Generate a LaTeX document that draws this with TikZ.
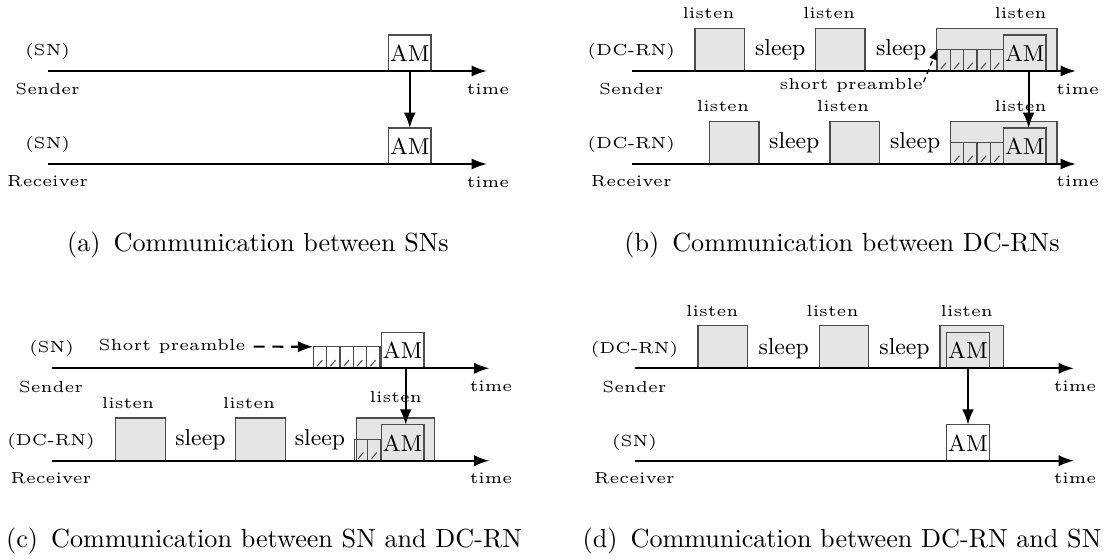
\documentclass[tikz,border=0pt]{standalone}
\usetikzlibrary{arrows.meta,positioning}
\tikzset{
  tag/.style={font=\tiny, scale=1.25, inner sep=0pt},
  word/.style={font=\small, inner sep=0pt},
  caption/.style={font=\fontsize{10.2}{12}\selectfont, inner sep=0pt},
  axis/.style={-{Latex[length=6pt,width=4.4pt]}, line width=0.85pt},
  msg/.style={-{Latex[length=6pt,width=4.6pt]}, line width=0.85pt},
  cue/.style={-{Latex[length=4pt,width=3.2pt]}, line width=0.5pt, dash pattern=on 2pt off 1.5pt},
  wake/.style={draw=black!70, fill=black!10, line width=0.5pt, minimum width=19.3pt, minimum height=16.7pt, inner sep=0pt, outer sep=0pt, anchor=south west},
  am/.style={draw=black!70, line width=0.5pt, minimum width=16.6pt, minimum height=14pt, inner sep=0pt, outer sep=0pt, anchor=south west, font=\small},
  pre/.style={draw=black!70, line width=0.5pt, minimum width=5.2pt, minimum height=8.4pt, inner sep=0pt, outer sep=0pt, anchor=south west,
    path picture={\draw[line width=0.4pt] ([xshift=1.5pt,yshift=0.8pt]path picture bounding box.south west) -- ++(2pt,2.4pt);}}
}

\begin{document}
\begin{tikzpicture}[x=0.39pt, y=-0.39pt]
  \useasboundingbox (0,0) rectangle (1109,560);

  % (a) SN -> SN
  \coordinate (a0) at (48,71);   \coordinate (a1) at (487,71);
  \coordinate (a2) at (48,164);  \coordinate (a3) at (487,164);
  \node[am] (amA1) at (388.5,71) {AM};
  \node[am] (amA2) at (388.5,164) {AM};
  \draw[axis] (a0) -- (a1);
  \draw[axis] (a2) -- (a3);
  \draw[msg] (amA1.south) -- (amA2.north);
  \node[tag] (nA1) at (47.6,51.7) {(SN)};
  \node[tag] (sA) at (47.6,89.3) {Sender};
  \node[tag] (tA1) at (488,89.3) {time};
  \node[tag] (nA2) at (47.6,144) {(SN)};
  \node[tag] (rA) at (47.6,181.7) {Receiver};
  \node[tag] (tA2) at (488,182) {time};
  \node[caption] (capA) at (258,245) {(a)\enspace Communication between SNs};

  % (b) DC-RN -> DC-RN
  \coordinate (b0) at (632,71);   \coordinate (b1) at (1076,71);
  \coordinate (b2) at (632,164);  \coordinate (b3) at (1076,164);
  \node[wake] (lb1) at (695,71) {};
  \node[wake] (lb2) at (815.6,71) {};
  \node[wake, minimum width=46.9pt] (wbS) at (936.8,71) {};
  \node[pre] (pb1) at (937,71) {};
  \node[pre, right=0pt of pb1] (pb2) {};
  \node[pre, right=0pt of pb2] (pb3) {};
  \node[pre, right=0pt of pb3] (pb4) {};
  \node[pre, right=0pt of pb4] (pb5) {};
  \node[am] (amB1) at (1003.5,71) {AM};
  \node[wake] (lb3) at (709.4,164) {};
  \node[wake] (lb4) at (829.9,164) {};
  \node[wake, minimum width=41.6pt] (wbR) at (950.4,164) {};
  \node[pre] (qb1) at (950.4,164) {};
  \node[pre, right=0pt of qb1] (qb2) {};
  \node[pre, right=0pt of qb2] (qb3) {};
  \node[pre, right=0pt of qb3] (qb4) {};
  \node[am] (amB2) at (1003.5,164) {AM};
  \draw[axis] (b0) -- (b1);
  \draw[axis] (b2) -- (b3);
  \node[tag] (nB1) at (631.3,51.7) {(DC-RN)};
  \node[tag] (sB) at (631.3,89.3) {Sender};
  \node[tag] (tB1) at (1077.6,89.3) {time};
  \node[tag] (spB) at (851.2,86) {short preamble};
  \draw[cue] ([yshift=1.5pt]spB.east) -- (pb1.north west);
  \node[tag] (iB1) at (708.6,13.3) {listen};
  \node[tag] (iB2) at (829.1,13.3) {listen};
  \node[tag] (iB3) at (1020.6,13.3) {listen};
  \node[word] (zB1) at (780.2,50) {sleep};
  \node[word] (zB2) at (901.2,50) {sleep};
  \node[tag] (nB2) at (631.3,144) {(DC-RN)};
  \node[tag] (rB) at (631.3,181.7) {Receiver};
  \node[tag] (tB2) at (1077.6,181.7) {time};
  \node[tag] (iB4) at (722.9,106) {listen};
  \node[tag] (iB5) at (843,106) {listen};
  \node[tag] (iB6) at (1020.6,106) {listen};
  \node[word] (zB3) at (794.3,143) {sleep};
  \node[word] (zB4) at (915.1,143) {sleep};
  \draw[msg] ([xshift=1.5pt]amB1.south) -- ([xshift=1.5pt]amB2.north);
  \node[caption] (capB) at (842,245) {(b)\enspace Communication between DC-RNs};

  % (c) SN -> DC-RN
  \coordinate (c0) at (51.7,368.3);  \coordinate (c1) at (489.5,368.3);
  \coordinate (c2) at (51.7,460.7);  \coordinate (c3) at (489.5,460.7);
  \node[pre] (pc1) at (313.3,368.3) {};
  \node[pre, right=0pt of pc1] (pc2) {};
  \node[pre, right=0pt of pc2] (pc3) {};
  \node[pre, right=0pt of pc3] (pc4) {};
  \node[pre, right=0pt of pc4] (pc5) {};
  \node[am] (amC1) at (381.4,368.3) {AM};
  \node[wake] (lc1) at (115.8,460.7) {};
  \node[wake] (lc2) at (235.8,460.7) {};
  \node[wake, minimum width=30.3pt] (wcR) at (356.8,460.7) {};
  \node[pre] (qc1) at (354.4,460.7) {};
  \node[pre, right=0pt of qc1] (qc2) {};
  \node[am] (amC2) at (381.4,460.7) {AM};
  \draw[axis] (c0) -- (c1);
  \draw[axis] (c2) -- (c3);
  \node[tag] (nC1) at (51.6,348.3) {(SN)};
  \node[tag] (sC) at (51,386.7) {Sender};
  \node[tag] (tC1) at (491,386.7) {time};
  \node[tag] (spC) at (172,346.7) {Short preamble};
  \draw[cue, line width=0.8pt, dash pattern=on 4.3pt off 3pt, -{Latex[length=6pt,width=4.4pt]}] ([xshift=3pt]spC.east) -- (pc1.north west);
  \node[tag] (iC1) at (128,402.7) {listen};
  \node[tag] (iC2) at (249,402.7) {listen};
  \node[tag] (iC3) at (395.8,397.3) {listen};
  \node[word] (zC1) at (200.4,440) {sleep};
  \node[word] (zC2) at (320,440) {sleep};
  \node[tag] (nC2) at (51,441.7) {(DC-RN)};
  \node[tag] (rC) at (51,478) {Receiver};
  \node[tag] (tC2) at (491,478) {time};
  \draw[msg] ([xshift=1.2pt]amC1.south) -- ([xshift=1.2pt]amC2.north);
  \node[caption] (capC) at (264,541) {(c)\enspace Communication between SN and DC-RN};

  % (d) DC-RN -> SN
  \coordinate (d0) at (634.5,368.3);  \coordinate (d1) at (1074,368.3);
  \coordinate (d2) at (634.5,460.7);  \coordinate (d3) at (1074,460.7);
  \node[wake] (ld1) at (698,368.3) {};
  \node[wake] (ld2) at (819.2,368.3) {};
  \node[wake, minimum width=24.7pt] (wdS) at (940,368.3) {};
  \node[am] (amD1) at (946.7,368.3) {AM};
  \node[am] (amD2) at (946.7,460.7) {AM};
  \draw[axis] (d0) -- (d1);
  \draw[axis] (d2) -- (d3);
  \draw[msg] (amD1.south) -- (amD2.north);
  \node[tag] (nD1) at (634.5,349) {(DC-RN)};
  \node[tag] (sD) at (634.5,386.7) {Sender};
  \node[tag] (tD1) at (1075,386.7) {time};
  \node[tag] (iD1) at (712.2,310.7) {listen};
  \node[tag] (iD2) at (832.4,310.7) {listen};
  \node[tag] (iD3) at (966.7,310.7) {listen};
  \node[word] (zD1) at (783.6,348.3) {sleep};
  \node[word] (zD2) at (904.5,348.3) {sleep};
  \node[tag] (nD2) at (634.5,442.3) {(SN)};
  \node[tag] (rD) at (634.5,478) {Receiver};
  \node[tag] (tD2) at (1075,478) {time};
  \node[caption] (capD) at (842,541) {(d)\enspace Communication between DC-RN and SN};
\end{tikzpicture}
\end{document}
